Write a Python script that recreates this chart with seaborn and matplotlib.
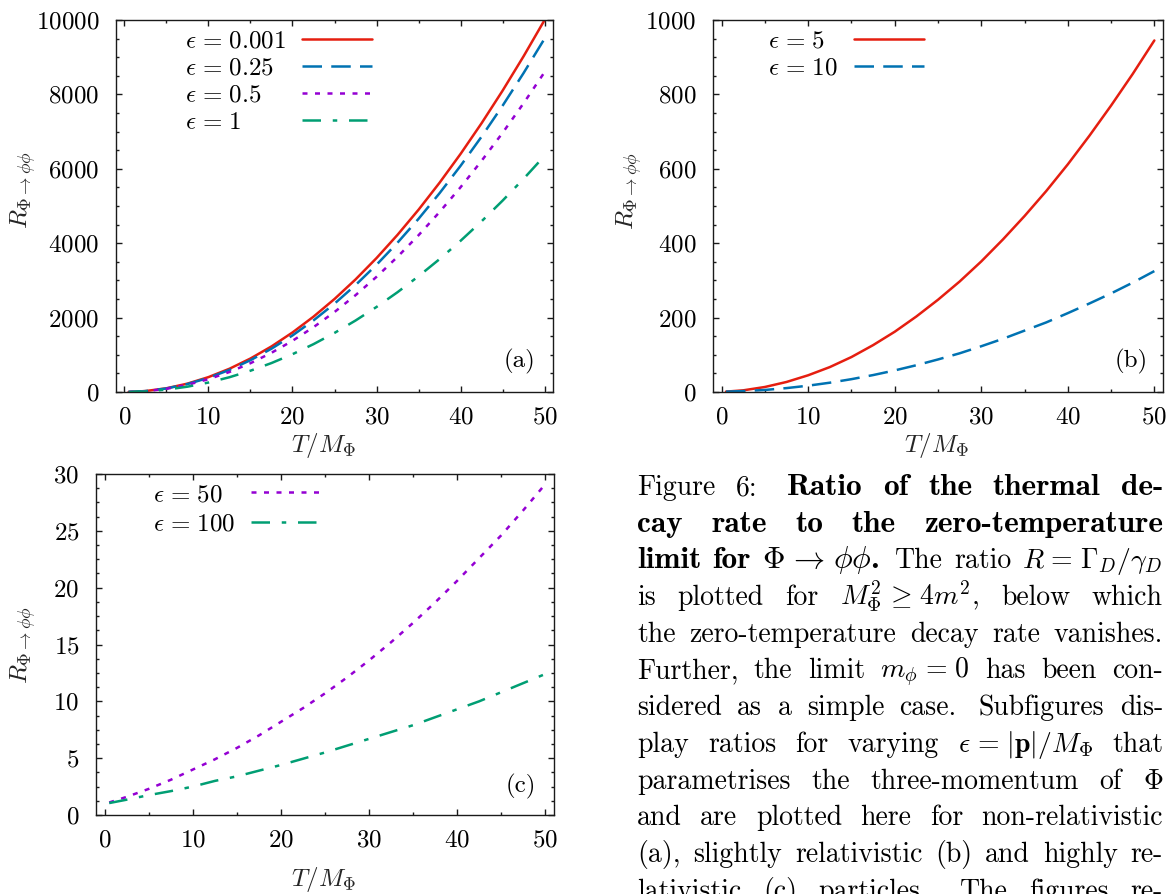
import numpy as np
import pandas as pd
import matplotlib
matplotlib.use("Agg")
import matplotlib.pyplot as plt
import seaborn as sns
from matplotlib.ticker import MultipleLocator

# ---------------- data ----------------
T = [0.5, 2.5, 5, 7.5, 10, 12.5, 15, 17.5, 20, 22.5, 25, 27.5, 30,
     32.5, 35, 37.5, 40, 42.5, 45, 47.5, 50]

# panel (a): non-relativistic
a_eps_0001 = [1, 25, 100, 225, 400, 625, 900, 1225, 1600, 2025, 2500, 3025, 3600,
              4225, 4900, 5625, 6400, 7225, 8100, 9025, 10000]
a_eps_025 = [1, 24, 95, 214, 380, 594, 855, 1164, 1520, 1924, 2375, 2874, 3420,
             4014, 4655, 5344, 6080, 6864, 7695, 8574, 9500]
a_eps_05 = [1, 21, 86, 194, 344, 538, 774, 1054, 1376, 1742, 2150, 2602, 3096,
            3634, 4214, 4838, 5504, 6214, 6966, 7762, 8600]
a_eps_1 = [1, 16, 64, 143, 254, 397, 572, 778, 1016, 1286, 1588, 1921, 2286,
           2683, 3112, 3572, 4064, 4588, 5144, 5731, 6350]

# panel (b): slightly relativistic
b_eps_5 = [1, 4.5, 13.5, 27, 45, 67, 94, 126, 162, 203, 248, 297, 351,
           410, 473, 540, 612, 689, 770, 855, 945]
b_eps_10 = [1, 2.5, 5.5, 10.5, 17, 25, 34.5, 45.5, 58, 72, 87.5, 104, 123,
            143, 165, 187, 212, 238, 265, 294, 325]

# panel (c): highly relativistic
c_eps_50 = [1.1, 1.6, 2.3, 3.1, 4.0, 4.9, 5.9, 7.0, 8.2, 9.4, 10.7, 12.1, 13.6,
            15.2, 16.9, 18.7, 20.6, 22.6, 24.6, 26.8, 29.1]
c_eps_100 = [1.05, 1.35, 1.75, 2.1, 2.5, 3.0, 3.4, 3.9, 4.4, 4.95, 5.5, 6.1, 6.7,
             7.3, 7.9, 8.6, 9.3, 10.0, 10.8, 11.6, 12.4]

SP = r"\hspace{0.12}"  # extra space to reach TeX thick spacing around relations
labels_a = [r"$\epsilon" + SP + "=" + SP + "0.001$", r"$\epsilon" + SP + "=" + SP + "0.25$",
            r"$\epsilon" + SP + "=" + SP + "0.5$", r"$\epsilon" + SP + "=" + SP + "1$"]
labels_b = [r"$\epsilon" + SP + "=" + SP + "5$", r"$\epsilon" + SP + "=" + SP + "10$"]
labels_c = [r"$\epsilon" + SP + "=" + SP + "50$", r"$\epsilon" + SP + "=" + SP + "100$"]

# ---------------- style ----------------
sns.set_theme(style="ticks")
FS = 18
plt.rcParams.update({
    "font.family": ["cmr10", "DejaVu Serif"],
    "mathtext.fontset": "cm",
    "axes.formatter.use_mathtext": True,
    "axes.unicode_minus": False,
    "axes.edgecolor": "#1a1a1a",
    "axes.linewidth": 1.0,
    "axes.facecolor": "white",
    "figure.facecolor": "white",
    "xtick.direction": "in", "ytick.direction": "in",
    "xtick.top": True, "ytick.right": True,
    "xtick.bottom": True, "ytick.left": True,
    "xtick.major.size": 4.3, "ytick.major.size": 4.3,
    "xtick.minor.size": 2.3, "ytick.minor.size": 2.3,
    "xtick.major.width": 1.0, "ytick.major.width": 1.0,
    "xtick.minor.width": 1.0, "ytick.minor.width": 1.0,
    "xtick.color": "#1a1a1a", "ytick.color": "#1a1a1a",
    "xtick.labelcolor": "black", "ytick.labelcolor": "black",
    "xtick.labelsize": FS, "ytick.labelsize": FS,
    "xtick.major.pad": 10.5, "ytick.major.pad": 12.0,
    "axes.labelsize": FS,
    "text.color": "black",
})

RED, BLUE, PURPLE, GREEN = "#e51e10", "#0072b2", "#9400d3", "#009e73"
LW = 1.8
SOLID = "-"
DASHED = (0, (7.8, 3.7))
DOTTED = (0, (2.0, 3.0))
DASHDOT = (0, (7.4, 4.7, 1.8, 4.7))

W, H = 1175, 894
DPI = 100
fig = plt.figure(figsize=(W / DPI, H / DPI), dpi=DPI)


def ax_px(l, t, r, b):
    return fig.add_axes([l / W, 1 - b / H, (r - l) / W, (b - t) / H])


ax_a = ax_px(116, 20, 553, 392)
ax_b = ax_px(713, 20, 1163, 392)
ax_c = ax_px(96, 474, 554, 815)

renderer = fig.canvas.get_renderer()

TEXTPAD = 0.66  # handletextpad in font-size units


def left_align_legend(leg):
    """Legend with label first, handle after: line the handles up in one column
    while keeping the labels left-aligned (gnuplot 'Left' key)."""
    texts = leg.get_texts()
    widths = [t.get_window_extent(renderer).width for t in texts]
    m = max(widths)
    px_per_pt = DPI / 72.0
    items = []
    for col in leg._legend_handle_box.get_children():
        items.extend(col.get_children())
    for item, w in zip(items, widths):
        item.sep = TEXTPAD * FS + (m - w) / px_per_pt


def panel(ax, series, labels, ylim, ymaj, ymin, tag, tagpos, leg_anchor, leg_space,
          xlab_pos, ylab_pos):
    for y, col, ls in series:
        sns.lineplot(x=T, y=y, ax=ax, color=col, linestyle=ls, linewidth=LW,
                     sort=False, estimator=None, legend=False)
    ax.set_xlim(-1, 51)
    ax.set_ylim(*ylim)
    ax.xaxis.set_major_locator(MultipleLocator(10))
    ax.xaxis.set_minor_locator(MultipleLocator(5))
    ax.yaxis.set_major_locator(MultipleLocator(ymaj))
    ax.yaxis.set_minor_locator(MultipleLocator(ymin))
    ax.tick_params(which="both", top=True, right=True)
    for s in ax.spines.values():
        s.set_visible(True)
        s.set_color("#1a1a1a")
    ax.set_xlabel(r"$T/M_{\Phi}$", fontsize=FS)
    ax.set_ylabel(r"$R_{\Phi\rightarrow\phi\phi}$", fontsize=FS)
    ax.xaxis.set_label_coords(*xlab_pos)
    ax.yaxis.set_label_coords(*ylab_pos)
    ax.text(tagpos[0], tagpos[1], tag, transform=ax.transAxes, ha="center",
            va="center", fontsize=FS)
    handles = ax.get_lines()[:len(labels)]
    leg = ax.legend(handles, labels, loc="upper left", bbox_to_anchor=leg_anchor,
                    frameon=False, markerfirst=False, handlelength=2.8,
                    handletextpad=TEXTPAD, labelspacing=leg_space, borderpad=0,
                    borderaxespad=0, fontsize=FS)
    left_align_legend(leg)


panel(ax_a,
      [(a_eps_0001, RED, SOLID), (a_eps_025, BLUE, DASHED),
       (a_eps_05, PURPLE, DOTTED), (a_eps_1, GREEN, DASHDOT)],
      labels_a, (0, 10000), 2000, 500, "(a)", (0.924, 0.081),
      (0.157, 0.972), 0.18, (0.474, -0.105), (-0.178, 0.543))
panel(ax_b,
      [(b_eps_5, RED, SOLID), (b_eps_10, BLUE, DASHED)],
      labels_b, (0, 1000), 200, 50, "(b)", (0.929, 0.081),
      (0.122, 0.972), 0.18, (0.496, -0.105), (-0.153, 0.54))
panel(ax_c,
      [(c_eps_50, PURPLE, DOTTED), (c_eps_100, GREEN, DASHDOT)],
      labels_c, (0, 30), 5, 1.25, "(c)", (0.927, 0.083),
      (0.124, 0.972), 0.28, (0.497, -0.147), (-0.127, 0.499))

# ---------------- caption (justified) ----------------
R_, B_ = False, True
cap_lines = [
    [("Figure", R_), ("6:", R_), ("Ratio", B_), ("of", B_), ("the", B_), ("thermal", B_), ("de-", B_)],
    [("cay", B_), ("rate", B_), ("to", B_), ("the", B_), ("zero-temperature", B_)],
    [("limit", B_), ("for", B_), (r"$\Phi" + SP + r"\rightarrow" + SP + r"\phi\phi$.", B_), ("The", R_),
     ("ratio", R_), (r"$R" + SP + "=" + SP + r"\Gamma_D/\gamma_D$", R_)],
    [("is", R_), ("plotted", R_), ("for", R_), (r"$M_\Phi^2" + SP + r"\geq" + SP + r"4m^2$,", R_),
     ("below", R_), ("which", R_)],
    [("the", R_), ("zero-temperature", R_), ("decay", R_), ("rate", R_), ("vanishes.", R_)],
    [("Further,", R_), ("the", R_), ("limit", R_), (r"$m_\phi" + SP + "=" + SP + "0$", R_), ("has", R_),
     ("been", R_), ("con-", R_)],
    [("sidered", R_), ("as", R_), ("a", R_), ("simple", R_), ("case.", R_), ("Subfigures", R_), ("dis-", R_)],
    [("play", R_), ("ratios", R_), ("for", R_), ("varying", R_),
     (r"$\epsilon" + SP + "=" + SP + r"|\mathbf{p}|/M_\Phi$", R_), ("that", R_)],
    [("parametrises", R_), ("the", R_), ("three-momentum", R_), ("of", R_), (r"$\Phi$", R_)],
    [("and", R_), ("are", R_), ("plotted", R_), ("here", R_), ("for", R_), ("non-relativistic", R_)],
    [("(a),", R_), ("slightly", R_), ("relativistic", R_), ("(b)", R_), ("and", R_), ("highly", R_), ("re-", R_)],
    [("lativistic", R_), ("(c)", R_), ("particles.", R_), ("The", R_), ("figures", R_), ("re-", R_)],
]
CAP_FS = 20
CAP_FS_BOLD = 22.5
CAP_L, CAP_R = 637, 1163
CAP_Y0, CAP_DY = 495, 36.7
for i, toks in enumerate(cap_lines):
    yb = 1 - (CAP_Y0 + i * CAP_DY) / H
    texts = [fig.text(0, yb, s, fontsize=(CAP_FS_BOLD if b else CAP_FS),
                      fontfamily=("cmb10" if b else "cmr10"),
                      ha="left", va="baseline") for s, b in toks]
    widths = [t.get_window_extent(renderer).width for t in texts]
    weights = [1.45 if toks[k][0].endswith((".", ":")) else 1.0 for k in range(len(toks) - 1)]
    gap = (CAP_R - CAP_L - sum(widths)) / sum(weights)
    x = CAP_L
    for k, t in enumerate(texts):
        t.set_x(x / W)
        x += widths[k] + (gap * weights[k] if k < len(weights) else 0)

fig.savefig("out.png", dpi=DPI)
